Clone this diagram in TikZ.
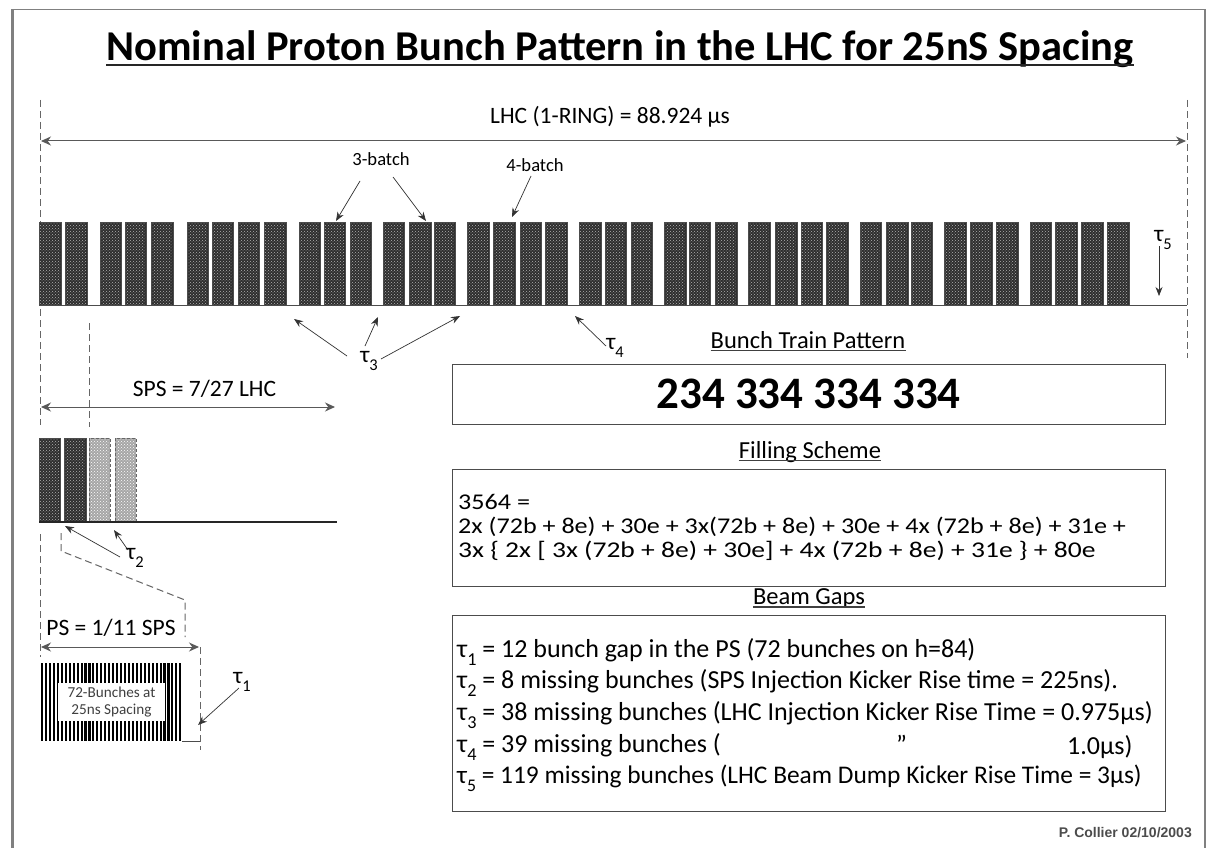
\documentclass[tikz,border=0pt]{standalone}
\usepackage{fontspec}
\setmainfont{Carlito}
\newfontfamily\authfont{Liberation Sans}
\usetikzlibrary{arrows.meta,patterns}
\newcommand{\taus}[1]{τ\raisebox{-0.32em}{\scalebox{0.7}{#1}}}
\newcommand{\wide}[2]{\scalebox{#1}[1]{#2}}
\tikzset{
  lbl/.style={inner sep=0pt,font=\fontsize{23.5}{26}\selectfont},
  small/.style={inner sep=0pt,font=\fontsize{18.6}{20}\selectfont},
  head/.style={inner sep=0pt,anchor=base,font=\fontsize{24.5}{26}\selectfont},
  hdline/.style={line width=1.4pt,black!75},
  ptr/.style={line width=0.7pt,black!80,-{Stealth[length=9pt,width=7pt]}},
  span/.style={line width=1pt,black!65,{Stealth[length=10pt,width=9pt]}-{Stealth[length=10pt,width=9pt]}},
  guide/.style={line width=1pt,black!60,dash pattern=on 7pt off 4pt},
  base/.style={line width=1pt,black!70},
  boxed/.style={draw=black!70,line width=1pt,fill=white},
  darkbar/.style={fill=black!82,draw=black!70,line width=.5pt,pattern color=white},
  lightbar/.style={fill=black!35,draw=black!60,line width=.5pt,densely dashed},
  gl/.style={inner sep=0pt,anchor=west,font=\fontsize{26}{26}\selectfont},
  fl/.style={inner sep=0pt,anchor=west,font=\fontsize{22.5}{23}\selectfont},
}
\begin{document}
\begin{tikzpicture}[x=1pt,y=-1pt]
\useasboundingbox (0,0) rectangle (1207,848);
\fill[white] (0,0) rectangle (1207,848);
\draw[black!50,line width=2.6pt] (12.5,848) -- (12.5,9.5);
\draw[black!50,line width=1.2pt] (12,9.5) -- (1205,9.5) -- (1205,848);

% title
\node[inner sep=0pt,font=\fontsize{42.5}{46}\selectfont\bfseries,anchor=base] (title) at (620,61) {Nominal Proton Bunch Pattern in the LHC for 25nS Spacing};
\draw[line width=2pt,black!85] ([yshift=-4pt]title.base west) -- ([yshift=-4pt]title.base east);

% full ring
\coordinate (ringL) at (40,100);
\coordinate (ringLb) at (40,425);
\coordinate (ringR) at (1187,100);
\coordinate (ringRb) at (1187,358);
\draw[guide] (ringL) -- (ringLb);
\draw[guide] (ringR) -- (ringRb);
\coordinate (lhcL) at (41,141);
\coordinate (lhcR) at (1186,141);
\draw[span] (lhcL) -- (lhcR);
\node[lbl] (lhc) at (610,117) {LHC (1-RING) = 88.924 μs};

% LHC bunch trains
\foreach \a/\b in {39/61,65/87,100/121,125/146,151/173,187/208,212/233,238/259,264/286,299/320,324/345,350/371,383/404,409/431,434/455,467/489,493/515,520/541,545/567,579/601,605/626,631/652,664/686,689/710,715/737,748/770,775/797,801/822,826/848,860/881,886/908,911/932,944/966,970/992,996/1018,1030/1051,1055/1077,1081/1103,1107/1129}{
  \path[darkbar] (\a,222) rectangle (\b,305);
  \path[pattern=crosshatch dots,pattern color=white!70!black] (\a+1,223) rectangle (\b-1,304);
}
\coordinate (lhcB0) at (39,305);
\coordinate (lhcB1) at (1187,305);
\draw[base] (lhcB0) -- (lhcB1);

\node[small] (b3) at (381,159) {3-batch};
\node[small] (b4) at (535,165) {4-batch};
\coordinate (b3a) at (336,221);
\coordinate (b3b) at (426,221);
\coordinate (b4a) at (512,217);
\draw[ptr] (360,181) -- (b3a);
\draw[ptr] (393,177) -- (b3b);
\draw[ptr] (531,176) -- (b4a);

\node[lbl] (t3) at (369,361) {\taus{3}};
\coordinate (g1) at (294,319);
\coordinate (g2) at (378,317);
\coordinate (g3) at (460,316);
\draw[ptr] (347,356) -- (g1);
\draw[ptr] (365,346) -- (g2);
\draw[ptr] (381,359) -- (g3);

\node[lbl] (t4) at (615,348) {\taus{4}};
\coordinate (g4) at (575,316);
\draw[ptr] (606,346) -- (g4);

\node[lbl] (t5) at (1163,240) {\taus{5}};
\coordinate (g5) at (1159,296);
\draw[ptr] (1159,246) -- (g5);

% SPS
\coordinate (spsD0) at (89,323);
\coordinate (spsD1) at (89,427);
\draw[guide] (spsD0) -- (spsD1);
\coordinate (spsL) at (41,407);
\coordinate (spsR) at (335,407);
\draw[span] (spsL) -- (spsR);
\node[lbl] (sps) at (204.5,389) {SPS = 7/27 LHC};

\foreach \a/\b in {39/60,64/86}{
  \path[darkbar] (\a,438) rectangle (\b,522);
  \path[pattern=crosshatch dots,pattern color=white!70!black] (\a+1,439) rectangle (\b-1,521);
}
\foreach \a/\b in {89/110,115/136}{
  \path[lightbar] (\a,438) rectangle (\b,522);
  \path[pattern=crosshatch dots,pattern color=white!70] (\a+1,439) rectangle (\b-1,521);
}
\coordinate (spsB0) at (39,522);
\coordinate (spsB1) at (337,522);
\draw[line width=1.2pt,black!85] (spsB0) -- (spsB1);

\node[lbl] (t2) at (135,558) {\taus{2}};
\coordinate (g21) at (65,526);
\coordinate (g22) at (114,530);
\draw[ptr] (120,557) -- (g21);
\draw[ptr] (128,550) -- (g22);

% PS
\coordinate (d0) at (40,534);
\coordinate (d1) at (40,657);
\draw[guide] (d0) -- (d1);
\coordinate (p0) at (61,533);
\coordinate (p1) at (61,551);
\coordinate (p2) at (185,600);
\coordinate (p3) at (185,637);
\draw[guide] (p0) -- (p1) -- (p2) -- (p3);
\coordinate (psL) at (41,647);
\coordinate (psR) at (199,647);
\draw[span] (psL) -- (psR);
\node[lbl] (ps) at (111,628) {PS = 1/11 SPS};
\coordinate (e0) at (200,647);
\coordinate (e1) at (200,750);
\draw[guide] (e0) -- (e1);

\foreach \i in {0,...,35}{
  \fill[black] ({41+\i*3.95},663) rectangle ({43.1+\i*3.95},741);
}
\node[fill=white,inner sep=0pt,minimum width=107pt,minimum height=38pt,align=center,font=\fontsize{15.2}{17}\selectfont,text=black!75] (psbox) at (111.5,702) {72-Bunches at\\25ns Spacing};
\coordinate (q0) at (182,741);
\coordinate (q1) at (200,741);
\draw[base] (q0) -- (q1);
\node[lbl] (t1) at (242,682) {\taus{1}};
\coordinate (g11) at (198,725);
\draw[ptr] (239,688) -- (g11);

% right panels
\node[head] (h1) at (808,348) {Bunch Train Pattern};
\draw[hdline] ([yshift=-2.5pt]h1.base west) -- ([yshift=-2.5pt]h1.base east);
\node[boxed,minimum width=713pt,minimum height=60pt,inner sep=0pt,font=\fontsize{45}{48}\selectfont\bfseries] (pat) at (808.5,394) {234 334 334 334};

\node[head] (h2) at (810,458) {Filling Scheme};
\draw[hdline] ([yshift=-2.5pt]h2.base west) -- ([yshift=-2.5pt]h2.base east);
\node[boxed,minimum width=713pt,minimum height=117pt,inner sep=0pt] (fill) at (808.5,527.5) {};
\node[fl] (f1) at (458,502) {\wide{1.16}{3564 =}};
\node[fl] (f2) at (458,527) {\wide{1.16}{2x (72b + 8e) + 30e + 3x(72b + 8e) + 30e + 4x (72b + 8e) + 31e +}};
\node[fl] (f3) at (458,551) {\wide{1.225}{3x \{ 2x [ 3x (72b + 8e) + 30e] + 4x (72b + 8e) + 31e \} + 80e}};

\node[head] (h3) at (809,604.5) {Beam Gaps};
\draw[hdline] ([yshift=-2.5pt]h3.base west) -- ([yshift=-2.5pt]h3.base east);
\node[boxed,minimum width=713pt,minimum height=196pt,inner sep=0pt] (gaps) at (808.5,713) {};
\node[gl] (l1) at (457,652) {\taus{1} = 12 bunch gap in the PS (72 bunches on h=84)};
\node[gl] (l2) at (457,683) {\taus{2} = 8 missing bunches (SPS Injection Kicker Rise time = 225ns).};
\node[gl] (l3) at (457,715) {\taus{3} = 38 missing bunches (LHC Injection Kicker Rise Time = 0.975μs)};
\node[gl] (l4) at (457,747) {\taus{4} = 39 missing bunches (};
\node[gl] (l4b) at (896,744) {"};
\node[gl] (l4c) at (1067,747) {1.0μs)};
\node[gl,font=\fontsize{25.4}{26}\selectfont] (l5) at (457,778) {\taus{5} = 119 missing bunches (LHC Beam Dump Kicker Rise Time = 3μs)};

\node[inner sep=0pt,anchor=east,font=\fontsize{14}{16}\selectfont\authfont\bfseries,text=black!70] (auth) at (1192,833) {P. Collier 02/10/2003};
\end{tikzpicture}
\end{document}
